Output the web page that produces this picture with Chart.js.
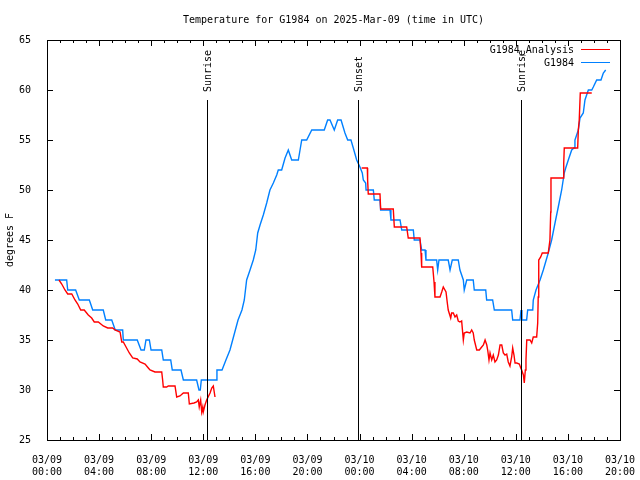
<!DOCTYPE html>
<html>
<head>
<meta charset="utf-8">
<script src="https://cdn.jsdelivr.net/npm/chart.js@4/dist/chart.umd.min.js"></script>
<style>
  html, body { margin: 0; padding: 0; background: #fff; }
  #wrap { width: 640px; height: 480px; }
</style>
</head>
<body>
<div id="wrap"><canvas id="temp-chart" width="640" height="480"></canvas></div>
<script>
// hours since 03/09 00:00 UTC
var obsHours = [0.61, 1.51, 1.59, 2.20, 2.48, 3.25, 3.51, 4.32, 4.51, 4.97, 5.24, 5.81, 5.86, 6.93, 7.22, 7.47, 7.60, 7.86, 7.99, 8.81,
  8.93, 9.50, 9.62, 10.29, 10.47, 11.49, 11.67, 11.77, 11.85, 12.98, 13.05, 13.44, 13.74, 14.05, 14.36, 14.67, 14.97, 15.15, 15.33, 15.59,
  15.84, 16.03, 16.18, 16.36, 16.61, 16.87, 17.12, 17.38, 17.64, 17.76, 18.02, 18.28, 18.53, 18.79, 19.30, 19.43, 19.56, 19.94, 20.33, 21.29,
  21.55, 21.73, 22.06, 22.32, 22.58, 22.88, 23.09, 23.34, 23.52, 23.78, 24.03, 24.21, 24.29, 24.47, 24.50, 25.06, 25.13, 25.57, 25.62, 26.34,
  26.41, 27.11, 27.24, 28.13, 28.20, 28.64, 28.77, 29.03, 29.10, 29.92, 30.00, 30.10, 30.81, 30.95, 31.12, 31.58, 31.71, 31.97, 32.04, 32.23,
  32.73, 32.81, 33.69, 33.76, 34.22, 34.35, 35.68, 35.76, 36.32, 36.40, 36.47, 36.83, 36.91, 37.30, 37.34, 37.55, 37.86, 38.11, 38.49, 38.75,
  39.01, 39.26, 39.52, 39.72, 39.83, 40.03, 40.29, 40.47, 40.54, 40.80, 40.93, 41.18, 41.31, 41.49, 41.57, 41.83, 41.95, 42.21, 42.54, 42.72, 42.90];
var obsTemps = [41, 41, 40, 40, 39, 39, 38, 38, 37, 37, 36, 36, 35, 35, 34, 34, 35, 35, 34, 34,
  33, 33, 32, 32, 31, 31, 30, 30, 31, 31, 32, 32, 33, 34, 35.5, 37, 38, 39, 41, 42,
  43, 44, 45.7, 46.5, 47.5, 48.7, 50, 50.7, 51.5, 52, 52, 53.2, 54, 53, 53, 54, 55, 55, 56, 56,
  57, 57, 56, 57, 57, 55.7, 55, 55, 54.2, 53, 52.3, 51.7, 51, 50.7, 50, 50, 49, 49, 48, 48,
  47, 47, 46, 46, 45, 45, 44, 44, 43, 43, 42, 43, 43, 42, 43, 43, 42, 41, 40, 41,
  41, 40, 40, 39, 39, 38, 38, 37, 37, 38, 37, 37, 38, 38, 39, 40, 41, 42, 43.7, 45,
  46.7, 48.3, 50, 51.7, 52.2, 53, 54, 54.2, 55, 56, 57.2, 57.7, 59, 59.7, 60, 60, 60.3, 61, 61, 61.7, 62];

var anaHours = [0.92, 1.13, 1.38, 1.59, 1.90, 2.15, 2.36, 2.59, 2.86, 3.17, 3.43, 3.63, 3.94, 4.32, 4.66, 5.04, 5.22, 5.61, 5.74, 5.86,
  6.07, 6.32, 6.58, 6.93, 7.14, 7.53, 7.78, 7.91, 8.29, 8.81, 8.88, 8.93, 9.19, 9.31, 9.83, 9.96, 10.21, 10.47, 10.85, 10.93,
  11.29, 11.49, 11.62, 11.69, 11.80, 11.88, 11.96, 12.00, 12.13, 12.26, 12.52, 12.65, 12.77, 12.90, 18.00,
  24.16, 24.60, 24.62, 24.67, 25.57, 25.62, 26.59, 26.67, 27.62, 27.74, 28.64, 28.72, 28.77, 29.62, 29.72, 29.79, 30.18, 30.31, 30.43, 30.64,
  30.74, 30.81, 31.00, 31.07, 31.20, 31.33, 31.46, 31.58, 31.71, 31.84, 31.97, 32.04, 32.23, 32.48, 32.61, 32.73, 32.81, 33.00, 33.20, 33.38,
  33.51, 33.64, 33.77, 33.84, 33.94, 34.02, 34.15, 34.27, 34.40, 34.53, 34.66, 34.79, 34.92, 35.04, 35.17, 35.30, 35.42, 35.55, 35.68, 35.76,
  35.86, 35.94, 36.07, 36.27, 36.38, 36.45, 36.58, 36.65, 36.73, 36.78, 36.84, 37.09, 37.22, 37.34, 37.60, 37.68, 37.72, 37.76, 37.91, 38.03,
  38.49, 38.62, 38.68, 38.70, 39.65, 39.68, 39.72, 40.75, 40.80, 40.87, 40.95, 41.83];
var anaTemps = [41, 40.6, 40, 39.6, 39.6, 39, 38.6, 38, 38, 37.5, 37.2, 36.8, 36.8, 36.4, 36.2, 36.2, 36, 35.8, 34.8, 34.8,
  34.3, 33.7, 33.2, 33.1, 32.8, 32.6, 32.2, 32, 31.8, 31.8, 31, 30.3, 30.3, 30.4, 30.4, 29.3, 29.4, 29.7, 29.7, 28.6,
  28.7, 28.8, 29, 28.3, 29, 27.8, 28.3, 27.8, 28.5, 29, 29.7, 30.2, 30.4, 29.3, null,
  52.2, 52.2, 51, 49.6, 49.6, 48.1, 48.1, 46.3, 46.3, 45.2, 45.2, 43.7, 42.3, 42.3, 40.8, 39.3, 39.3, 39.8, 40.3, 39.8,
  38.7, 38, 37.2, 37.7, 37.7, 37.3, 37.5, 36.9, 36.8, 36.9, 35, 35.7, 35.8, 35.7, 36, 35.7, 35, 34, 34, 34.3,
  34.5, 35, 34.5, 34, 33, 33.7, 33, 33.5, 32.8, 33, 33.5, 34.5, 34.5, 33.7, 33.5, 33.6, 32.8, 32.4, 33.3, 34.2,
  33.5, 32.7, 32.7, 32.6, 32.2, 32, 31.5, 30.7, 32, 33, 35, 35, 34.7, 35.3, 35.3, 36.7, 39.3, 43, 43.3, 43.7,
  43.7, 45, 47.8, 51.2, 51.2, 52.7, 54.2, 54.2, 56, 57, 59.7, 59.7];

var sunHours = [12.29, 23.88, 36.40];
var sunLabels = ['Sunrise', 'Sunset', 'Sunrise'];
var xTickDates = ['03/09', '03/09', '03/09', '03/09', '03/09', '03/09', '03/10', '03/10', '03/10', '03/10', '03/10', '03/10'];
var xTickTimes = ['00:00', '04:00', '08:00', '12:00', '16:00', '20:00', '00:00', '04:00', '08:00', '12:00', '16:00', '20:00'];

var FONT = '"DejaVu Sans Mono", monospace';

function toPoints(xs, ys) {
  return xs.map(function(x, i) { return { x: x, y: ys[i] }; });
}

// gnuplot look: box, inward ticks, sun markers, title, legend
var gnuplotDecor = {
  id: 'gnuplotDecor',
  afterDatasetsDraw: function(chart) {
    var ctx = chart.ctx, a = chart.chartArea;
    var xs = chart.scales.x, ys = chart.scales.y;
    ctx.save();
    ctx.strokeStyle = '#000';
    ctx.lineWidth = 1;

    // sunrise / sunset lines
    ctx.font = '10px ' + FONT;
    ctx.fillStyle = '#000';
    sunHours.forEach(function(h, i) {
      var px = Math.round(xs.getPixelForValue(h)) + 0.5;
      ctx.beginPath();
      ctx.moveTo(px, a.top + 60);
      ctx.lineTo(px, a.bottom);
      ctx.stroke();
      ctx.save();
      ctx.translate(px + 1, a.top + 52);
      ctx.rotate(-Math.PI / 2);
      ctx.textAlign = 'left';
      ctx.textBaseline = 'middle';
      ctx.fillText(sunLabels[i], 0, 0);
      ctx.restore();
    });

    // border
    ctx.strokeRect(Math.round(a.left) + 0.5, Math.round(a.top) + 0.5, Math.round(a.right - a.left), Math.round(a.bottom - a.top));

    // x ticks (every hour, longer every 4 h)
    ctx.beginPath();
    for (var h = 0; h <= 44; h++) {
      var len = (h % 4 === 0) ? 6 : 3;
      var px = Math.round(xs.getPixelForValue(h)) + 0.5;
      ctx.moveTo(px, a.bottom); ctx.lineTo(px, a.bottom - len);
      ctx.moveTo(px, a.top); ctx.lineTo(px, a.top + len);
    }
    // y ticks, mirrored on right
    for (var t = 25; t <= 65; t += 5) {
      var py = Math.round(ys.getPixelForValue(t)) + 0.5;
      ctx.moveTo(a.left, py); ctx.lineTo(a.left + 6, py);
      ctx.moveTo(a.right, py); ctx.lineTo(a.right - 6, py);
    }
    ctx.stroke();

    // title
    ctx.font = '10px ' + FONT;
    ctx.textAlign = 'center';
    ctx.textBaseline = 'middle';
    ctx.fillText('Temperature for G1984 on 2025-Mar-09 (time in UTC)', (a.left + a.right) / 2, 20);

    // legend (text left of sample line)
    chart.data.datasets.forEach(function(ds, i) {
      var y = a.top + 10 + i * 13;
      ctx.textAlign = 'right';
      ctx.fillStyle = '#000';
      ctx.fillText(ds.label, a.right - 46, y);
      ctx.strokeStyle = ds.borderColor;
      ctx.beginPath();
      ctx.moveTo(a.right - 39, y - 0.5);
      ctx.lineTo(a.right - 10, y - 0.5);
      ctx.stroke();
    });
    ctx.restore();
  }
};

new Chart(document.getElementById('temp-chart'), {
  type: 'line',
  data: {
    datasets: [{
      label: 'G1984_Analysis',
      data: toPoints(anaHours, anaTemps),
      borderColor: '#ff0000',
      borderWidth: 1.4,
      pointRadius: 0,
      spanGaps: false
    }, {
      label: 'G1984',
      data: toPoints(obsHours, obsTemps),
      borderColor: '#0080ff',
      borderWidth: 1.4,
      pointRadius: 0
    }]
  },
  options: {
    responsive: false,
    animation: false,
    devicePixelRatio: 1,
    layout: { padding: { top: 40, right: 20, left: 0, bottom: 0 } },
    plugins: { legend: { display: false }, title: { display: false }, tooltip: { enabled: false } },
    scales: {
      x: {
        type: 'linear', min: 0, max: 44,
        grid: { display: false }, border: { display: false },
        afterFit: function(s) { s.height = 40; s.paddingLeft = 0; s.paddingRight = 0; },
        afterBuildTicks: function(s) {
          s.ticks = xTickTimes.map(function(_, i) { return { value: i * 4 }; });
        },
        ticks: {
          autoSkip: false, maxRotation: 0, padding: 7, color: '#000',
          font: { family: FONT, size: 10, lineHeight: 1.15 },
          callback: function(v) { var i = Math.round(v / 4); return [xTickDates[i], xTickTimes[i]]; }
        }
      },
      y: {
        min: 25, max: 65,
        grid: { display: false }, border: { display: false },
        afterFit: function(s) { s.width = 47; },
        ticks: { stepSize: 5, padding: 8, color: '#000', font: { family: FONT, size: 10 } },
        title: { display: true, text: 'degrees F', color: '#000', font: { family: FONT, size: 10 }, padding: { top: 4, bottom: 0 } }
      }
    }
  },
  plugins: [gnuplotDecor]
});
</script>
</body>
</html>
